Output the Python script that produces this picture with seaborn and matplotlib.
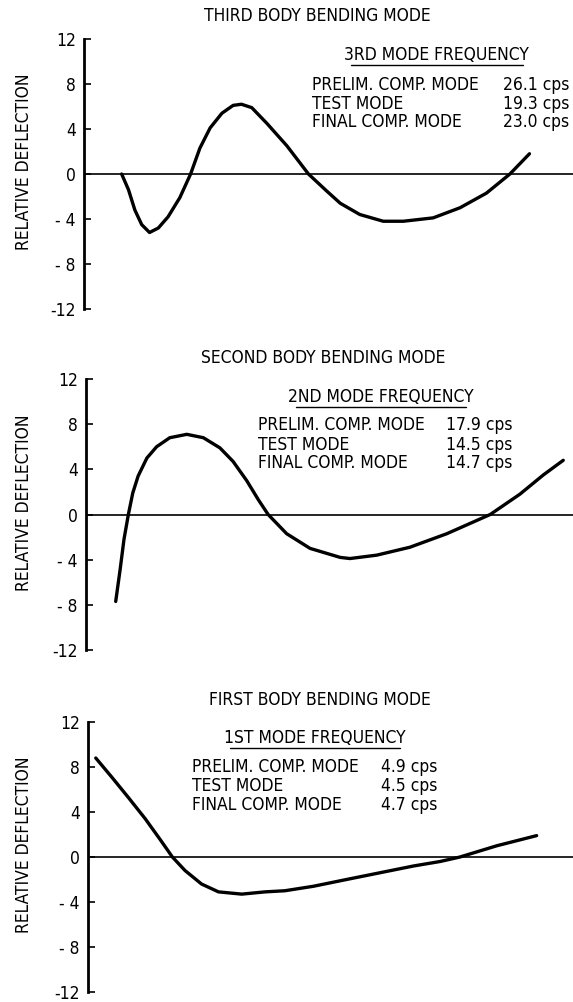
import matplotlib
matplotlib.use("Agg")
import matplotlib.pyplot as plt
import matplotlib.font_manager as fm
import seaborn as sns
import pandas as pd
from matplotlib.lines import Line2D

sns.set_style("white")

# pick a condensed face if one is installed
_entries = fm.fontManager.ttflist
_names = {f.name for f in _entries}
_dv_cond = any(f.name == "DejaVu Sans" and str(f.stretch).lower() in ("condensed", "semi-condensed", "500", "400")
               for f in _entries)
if _dv_cond:
    plt.rcParams['font.family'] = ['DejaVu Sans']
    plt.rcParams['font.stretch'] = 'condensed'
    fs = 12.5
elif "Liberation Sans Narrow" in _names:
    plt.rcParams['font.family'] = ['Liberation Sans Narrow', 'DejaVu Sans']
    fs = 13.5
else:
    plt.rcParams['font.family'] = ['DejaVu Sans']
    fs = 11.5
plt.rcParams['text.color'] = 'black'

# ---------------- data ----------------
titles = ["THIRD BODY BENDING MODE", "SECOND BODY BENDING MODE", "FIRST BODY BENDING MODE"]
headings = ["3RD MODE FREQUENCY", "2ND MODE FREQUENCY", "1ST MODE FREQUENCY"]
row_labels = ["PRELIM. COMP. MODE", "TEST MODE", "FINAL COMP. MODE"]
freq_3rd = ["26.1", "19.3", "23.0"]
freq_2nd = ["17.9", "14.5", "14.7"]
freq_1st = ["4.9", "4.5", "4.7"]

yticks = [12, 8, 4, 0, -4, -8, -12]
ytick_labels = ["12", "8", "4", "0", "- 4", "- 8", "-12"]

x_3rd = [7.7, 9.1, 10.4, 11.8, 13.4, 15.2, 17.2, 19.6, 21.8, 23.7, 25.8, 28.2,
         30.5, 32.2, 34.3, 37.4, 41.5, 45.9, 49.6, 52.4, 56.4, 61.2, 65.3,
         71.4, 76.9, 82.3, 87.1, 91.1]
y_3rd = [0.0, -1.4, -3.2, -4.5, -5.2, -4.8, -3.8, -2.1, 0.0, 2.3, 4.1, 5.4,
         6.1, 6.2, 5.9, 4.5, 2.5, 0.0, -1.5, -2.6, -3.6, -4.2, -4.2,
         -3.9, -3.0, -1.7, 0.0, 1.8]

x_2nd = [6.1, 7.0, 7.8, 8.7, 9.6, 10.7, 12.5, 14.5, 17.2, 20.7, 24.1, 27.5,
         30.2, 33.0, 35.4, 37.4, 41.2, 46.0, 52.2, 54.2, 59.7, 66.5, 74.1,
         83.0, 89.1, 93.9, 98.0]
y_2nd = [-7.7, -4.9, -2.2, 0.0, 1.9, 3.4, 5.0, 6.0, 6.8, 7.1, 6.8, 5.9,
         4.7, 3.0, 1.3, 0.0, -1.7, -3.0, -3.8, -3.9, -3.6, -2.9, -1.7,
         0.0, 1.8, 3.5, 4.8]

x_1st = [1.6, 4.9, 8.3, 11.8, 14.8, 17.4, 20.0, 23.4, 26.9, 31.7, 36.5, 40.6,
         46.5, 53.3, 60.2, 67.1, 72.6, 76.7, 84.3, 92.5]
y_1st = [8.8, 7.1, 5.3, 3.4, 1.6, 0.0, -1.2, -2.4, -3.1, -3.3, -3.1, -3.0,
         -2.6, -2.0, -1.4, -0.8, -0.4, 0.0, 1.0, 1.9]

W, H = 573, 1002
fig = plt.figure(figsize=(W / 100, H / 100), dpi=100)

def fx(px):
    return px / W

def fy(py):
    return 1 - py / H

# layout: (axis_left_px, top_px(12), bottom_px(-12), title_x, title_y,
#          head_x, head_y, underline_y, ul_x0, ul_x1, rows_left, rows_right, rows_y)
layouts = [
    (84, 39, 309, 317, 16, 436, 55, 65, 351, 523, 312, 569, [85, 104, 122]),
    (86, 379, 650, 323, 358, 381, 397, 407, 296, 466, 258, 512, [425, 445, 463]),
    (88, 722, 992, 320, 700, 315, 738, 748, 230, 400, 192, 437, [767, 786, 805]),
]
series = [(x_3rd, y_3rd, freq_3rd), (x_2nd, y_2nd, freq_2nd), (x_1st, y_1st, freq_1st)]

for i, (lay, (xs, ys, freqs)) in enumerate(zip(layouts, series)):
    (axl, top, bot, tx, ty, hx, hy, uly, ux0, ux1, rl, rr, rys) = lay
    ax = fig.add_axes([fx(axl), fy(bot), 1 - fx(axl), (bot - top) / H])
    df = pd.DataFrame({"x": xs, "y": ys})
    sns.lineplot(data=df, x="x", y="y", ax=ax, color="black", linewidth=2.4,
                 sort=False, estimator=None)
    for ln in ax.lines:
        ln.set_solid_joinstyle("round")
        ln.set_solid_capstyle("round")
    ax.axhline(0, color="black", linewidth=1.2)
    ax.set_xlim(0, 100)
    ax.set_ylim(-12, 12)
    ax.set_yticks(yticks)
    ax.set_yticklabels(ytick_labels)
    ax.set_xticks([])
    ax.set_xlabel("")
    ax.set_ylabel("")
    for s in ["top", "right", "bottom"]:
        ax.spines[s].set_visible(False)
    ax.spines["left"].set_linewidth(2.0)
    ax.spines["left"].set_color("black")
    ax.tick_params(axis="y", direction="in", length=5, width=1.2, pad=6,
                   labelsize=fs, colors="black", left=True)
    ax.patch.set_alpha(0)
    fig.text(fx(24), fy((top + bot) / 2 - 12), "RELATIVE DEFLECTION", rotation=90,
             ha="center", va="center", fontsize=fs)
    fig.text(fx(tx), fy(ty), titles[i], ha="center", va="center", fontsize=fs)
    fig.text(fx(hx), fy(hy), headings[i], ha="center", va="center", fontsize=fs)
    fig.add_artist(Line2D([fx(ux0), fx(ux1)], [fy(uly), fy(uly)], color="black",
                          linewidth=1.0))
    for lbl, fq, ry in zip(row_labels, freqs, rys):
        fig.text(fx(rl), fy(ry), lbl, ha="left", va="center", fontsize=fs)
        fig.text(fx(rr), fy(ry), f"{fq} cps", ha="right", va="center", fontsize=fs)

fig.savefig("out.png", dpi=100)
